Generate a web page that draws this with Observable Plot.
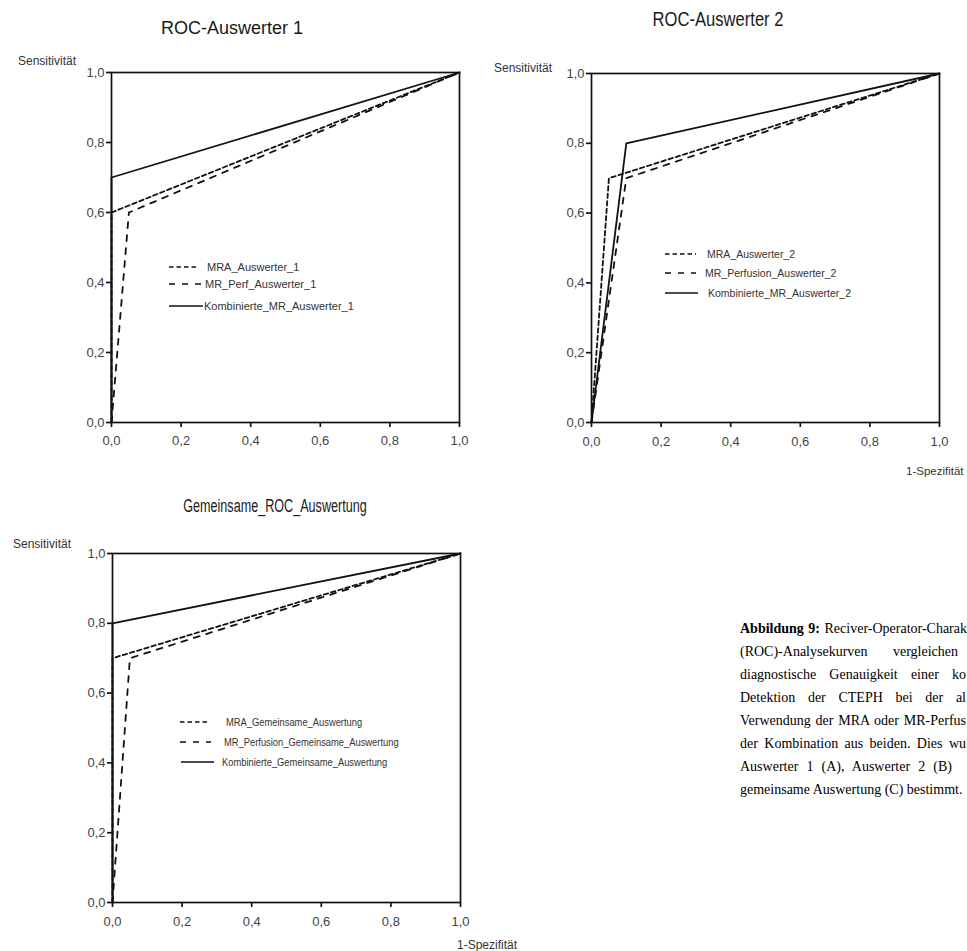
<!DOCTYPE html>
<html><head><meta charset="utf-8">
<script src="https://cdn.jsdelivr.net/npm/d3@7"></script>
<script src="https://cdn.jsdelivr.net/npm/@observablehq/plot@0.6"></script>
<style>
html,body{margin:0;padding:0;background:#fff;}
body{width:967px;height:951px;overflow:hidden;position:relative;}
.abs{position:absolute;white-space:nowrap;}
.ttl{font-family:"Liberation Sans",Arial,sans-serif;color:#1a1a1a;transform-origin:50% 50%;}
.lbl{font-family:"Liberation Sans",Arial,sans-serif;font-size:12px;color:#333;}
.leg{font-family:"Liberation Sans",Arial,sans-serif;color:#333;}
.cap{font-family:"Liberation Serif","Times New Roman",serif;font-size:14px;line-height:23px;color:#000;}
.cap div{text-align:justify;text-align-last:justify;white-space:nowrap;}
.cap div.l{text-align:left;text-align-last:left;}
.clip{position:absolute;}
.clip svg{display:block;max-width:none;}
</style></head><body>
<script>
// ---- data ----
const xTicks = [0, 0.2, 0.4, 0.6, 0.8, 1.0];
const yTicks = [0, 0.2, 0.4, 0.6, 0.8, 1.0];

const names1 = ["MRA_Auswerter_1", "MR_Perf_Auswerter_1", "Kombinierte_MR_Auswerter_1"];
const fpr1 = [[0, 0, 1], [0, 0.05, 1], [0, 0, 1]];
const tpr1 = [[0, 0.6, 1], [0, 0.6, 1], [0, 0.7, 1]];

const names2 = ["MRA_Auswerter_2", "MR_Perfusion_Auswerter_2", "Kombinierte_MR_Auswerter_2"];
const fpr2 = [[0, 0.05, 1], [0, 0.1, 1], [0, 0.1, 1]];
const tpr2 = [[0, 0.7, 1], [0, 0.7, 1], [0, 0.8, 1]];

const names3 = ["MRA_Gemeinsame_Auswertung", "MR_Perfusion_Gemeinsame_Auswertung", "Kombinierte_Gemeinsame_Auswertung"];
const fpr3 = [[0, 0, 1], [0, 0.05, 1], [0, 0, 1]];
const tpr3 = [[0, 0.7, 1], [0, 0.7, 1], [0, 0.8, 1]];

const titles = ["ROC-Auswerter 1", "ROC-Auswerter 2", "Gemeinsame_ROC_Auswertung"];
const yLabel = "Sensitivität";
const xLabel = "1-Spezifität";

// caption as visible in the figure (the right edge of the page cuts the text block)
const captionLines = [
  "<b>Abbildung 9:</b> Reciver-Operator-Charak",
  "(ROC)-Analysekurven vergleichen",
  "diagnostische Genauigkeit einer ko",
  "Detektion der CTEPH bei der al",
  "Verwendung der MRA oder MR-Perfus",
  "der Kombination aus beiden. Dies wu",
  "Auswerter 1 (A), Auswerter 2 (B)",
  "gemeinsame Auswertung (C) bestimmt."
];
const captionWidths = [227, 218, 226, 226, 226, 226, 212, null];

// ---- styles ----
const dashes = ["4.5,3", "6,7", null];
const fmt = d => d3.format(".1f")(d).replace(".", ",");

function el(tag, cls, css, html) {
  const e = document.createElement(tag);
  if (cls) e.className = cls;
  Object.assign(e.style, css || {});
  if (html != null) e.innerHTML = html;
  document.body.appendChild(e);
  return e;
}

function panel(cfg, names, fpr, tpr) {
  const rows = names.flatMap((n, i) => fpr[i].map((x, j) => ({series: n, fpr: x, tpr: tpr[i][j]})));
  const svg = Plot.plot({
    width: cfg.w, height: cfg.h,
    marginLeft: cfg.ml, marginRight: cfg.mr, marginTop: cfg.mt, marginBottom: cfg.mb,
    x: {domain: [0, 1]}, y: {domain: [0, 1]},
    style: {fontFamily: "'Liberation Sans', Arial, sans-serif", fontSize: "13px", background: "transparent"},
    marks: [
      ...names.map((n, i) => Plot.line(rows.filter(d => d.series === n), {
        x: "fpr", y: "tpr", stroke: "#111", strokeWidth: 1.8,
        strokeDasharray: dashes[i] || undefined
      })),
      Plot.frame({stroke: "#111", strokeWidth: 1.7}),
      Plot.axisX({ticks: xTicks, tickSize: 5, tickPadding: cfg.xpad || 9, tickFormat: fmt, stroke: "#111", strokeWidth: 1.7, fill: "#444", label: null}),
      Plot.axisY({ticks: yTicks, tickSize: 5, tickPadding: 2, tickFormat: fmt, stroke: "#111", strokeWidth: 1.7, fill: "#444", label: null})
    ]
  });
  const box = el("div", "clip", {left: cfg.x + "px", top: cfg.y + "px", width: cfg.w + "px", height: cfg.h + "px"});
  box.appendChild(svg);

  // title
  el("div", "abs ttl", {left: cfg.tx + "px", top: cfg.ty + "px", fontSize: cfg.tf + "px",
    transform: `translateX(-50%) scaleX(${cfg.tsx || 1})`}, cfg.title);
  // axis labels
  el("div", "abs lbl", {left: cfg.ylx + "px", top: cfg.yly + "px"}, yLabel);
  if (cfg.xlx != null) el("div", "abs lbl", {left: cfg.xlx + "px", top: cfg.xly + "px", fontSize: (cfg.xlf || 12) + "px"}, xLabel);
  // legend
  names.forEach((n, i) => {
    const L = cfg.leg[i];
    const row = el("div", "abs leg", {left: L.sx + "px", top: (L.y - 8) + "px", height: "16px", display: "flex", alignItems: "center", fontSize: cfg.lf + "px"});
    const w = L.sw;
    row.innerHTML = `<svg width="${w}" height="16" style="display:block"><line x1="0" x2="${w}" y1="8" y2="8" stroke="#111" stroke-width="1.7" ${dashes[i] ? `stroke-dasharray="${dashes[i]}"` : ""}/></svg><span style="margin-left:${L.gap}px;display:inline-block;transform-origin:0 50%;transform:scaleX(${cfg.lsx || 1})">${n}</span>`;
  });
}

panel({x: 0, y: 0, w: 480, h: 470, ml: 111, mr: 21, mt: 72, mb: 48, xpad: 8,
  title: titles[0], tx: 232, ty: 18, tf: 18,
  ylx: 18, yly: 54, lf: 11,
  leg: [{y: 267, sx: 169, sw: 30, gap: 8}, {y: 284, sx: 169, sw: 33, gap: 3}, {y: 306, sx: 169, sw: 34, gap: 1}]
}, names1, fpr1, tpr1);

panel({x: 480, y: 0, w: 487, h: 480, ml: 111, mr: 28, mt: 73, mb: 58,
  title: titles[1], tx: 718, ty: 8, tf: 20, tsx: 0.83,
  ylx: 494, yly: 61, xlx: 906, xly: 465, xlf: 11.5, lf: 10.5,
  leg: [{y: 254, sx: 665, sw: 31, gap: 11}, {y: 273, sx: 665, sw: 31, gap: 9}, {y: 293, sx: 665, sw: 33, gap: 10}]
}, names2, fpr2, tpr2);

panel({x: 0, y: 470, w: 480, h: 481, ml: 112, mr: 20, mt: 83, mb: 49,
  title: titles[2], tx: 275, ty: 496, tf: 18, tsx: 0.7,
  ylx: 13, yly: 537, xlx: 457, xly: 938, lf: 11, lsx: 0.85,
  leg: [{y: 722, sx: 180, sw: 30, gap: 16}, {y: 742, sx: 180, sw: 31, gap: 13}, {y: 762, sx: 181, sw: 33, gap: 8}]
}, names3, fpr3, tpr3);

// caption
const cap = el("div", "abs cap", {left: "740px", top: "617px"});
cap.innerHTML = captionLines.map((t, i) => captionWidths[i]
  ? `<div style="width:${captionWidths[i]}px">${t}</div>`
  : `<div class="l">${t}</div>`).join("");
</script>
</body></html>
